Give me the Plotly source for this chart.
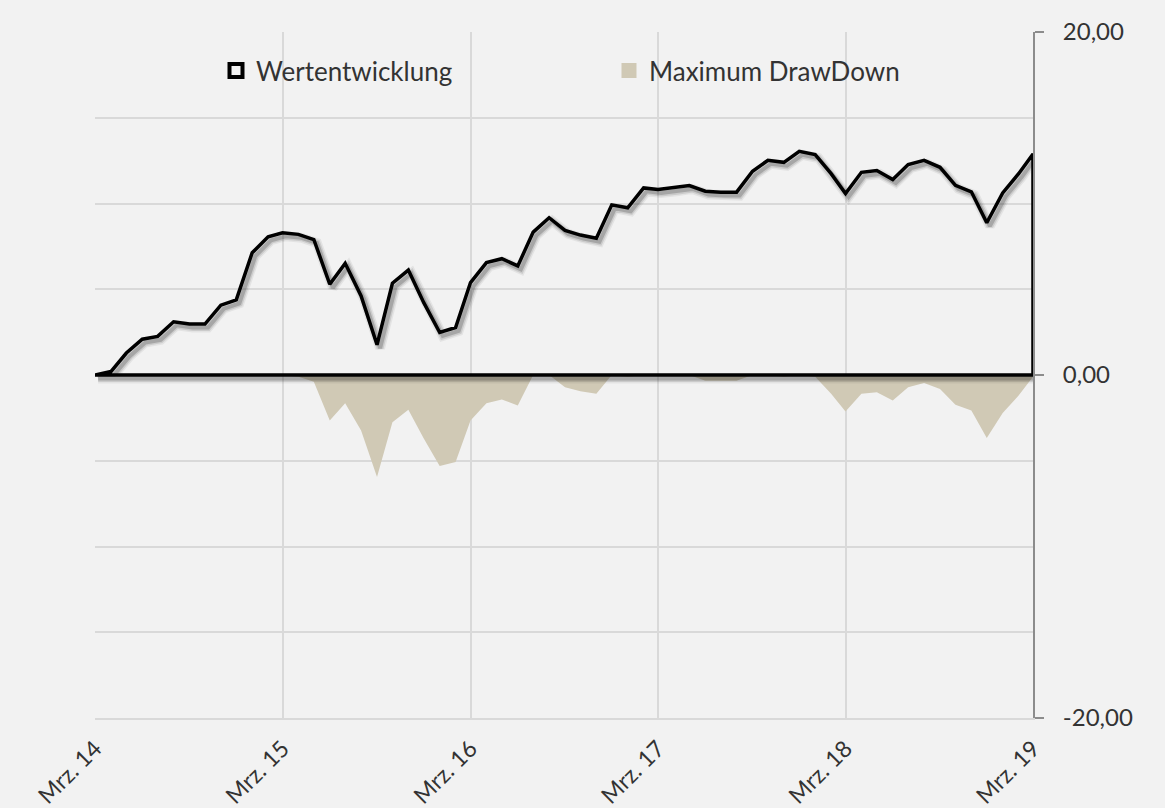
import plotly.graph_objects as go
import pandas as pd

# ---- data ----
months = [f"{2014 + (2 + i) // 12}-{(2 + i) % 12 + 1:02d}-01" for i in range(61)]

wertentwicklung = [
    0.00, 0.20, 1.28, 2.09, 2.25, 3.10, 2.97, 2.97, 4.07, 4.38,
    7.13, 8.06, 8.29, 8.20, 7.90, 5.29, 6.51, 4.61, 1.76, 5.35,
    6.12, 4.22, 2.48, 2.77, 5.39, 6.55, 6.78, 6.36, 8.33, 9.17,
    8.43, 8.16, 7.97, 9.92, 9.75, 10.91, 10.81, 10.91, 11.05, 10.72,
    10.66, 10.66, 11.88, 12.52, 12.40, 13.04, 12.85, 11.74, 10.58, 11.82,
    11.92, 11.40, 12.27, 12.52, 12.11, 11.06, 10.68, 8.88, 10.62, 11.74,
    12.89,
]

max_drawdown = [
    0, 0, 0, 0, 0, 0, 0, 0, 0, 0,
    0, 0, 0, -0.10, -0.40, -2.66, -1.65, -3.24, -5.95, -2.75,
    -2.02, -3.70, -5.31, -5.08, -2.66, -1.65, -1.43, -1.78, 0, 0,
    -0.72, -0.95, -1.10, 0, -0.10, 0, -0.05, 0, 0, -0.33,
    -0.35, -0.33, 0, 0, -0.10, 0, -0.10, -1.10, -2.13, -1.10,
    -1.00, -1.49, -0.72, -0.47, -0.81, -1.74, -2.07, -3.68, -2.21, -1.20,
    -0.10,
]

series_names = ["Wertentwicklung", "Maximum DrawDown"]
x_tick_vals = ["2014-03-01", "2015-03-01", "2016-03-01", "2017-03-01", "2018-03-01", "2019-03-01"]
x_tick_text = ["Mrz. 14", "Mrz. 15", "Mrz. 16", "Mrz. 17", "Mrz. 18", "Mrz. 19"]
y_tick_vals = [-20, 0, 20]
y_tick_text = ["-20,00", "0,00", "20,00"]

# ---- styling ----
BG = "#F2F2F2"
GRID = "#D9D9D9"
TEXT = "#333333"
DD_COLOR = "#D0C9B5"
FONT = "Lato"

# outline of the (unfilled) area: the line, down to zero, back along zero
outline_x = months + [months[-1], months[0]]
outline_y = wertentwicklung + [0, 0]

fig = go.Figure()

# drawdown area
fig.add_trace(go.Scatter(
    x=months, y=max_drawdown, mode="lines", fill="tozeroy",
    fillcolor=DD_COLOR, line=dict(width=0, color=DD_COLOR),
    showlegend=False, hoverinfo="skip", xaxis="x", yaxis="y",
))

# soft shadow of the line (on shifted overlay axes)
for w, a in [(10, 0.06), (7, 0.10), (4, 0.18)]:
    fig.add_trace(go.Scatter(
        x=outline_x, y=outline_y, mode="lines",
        line=dict(width=w, color=f"rgba(0,0,0,{a})"),
        showlegend=False, hoverinfo="skip", xaxis="x2", yaxis="y2",
    ))

# performance line
fig.add_trace(go.Scatter(
    x=outline_x, y=outline_y, mode="lines",
    line=dict(width=3.5, color="black"),
    showlegend=False, xaxis="x3", yaxis="y3",
))

# legend entries
fig.add_trace(go.Scatter(
    x=[None], y=[None], mode="markers", name=series_names[0],
    marker=dict(symbol="square-open", size=13, color="black",
                line=dict(width=4, color="black")),
))
fig.add_trace(go.Scatter(
    x=[None], y=[None], mode="markers", name=series_names[1],
    marker=dict(symbol="square", size=15, color=DD_COLOR),
))

x0 = pd.Timestamp(x_tick_vals[0])
x1 = pd.Timestamp(x_tick_vals[-1])
shift = pd.Timedelta(days=6)
yshift = 0.2

fig.update_layout(
    width=1165, height=808,
    paper_bgcolor=BG, plot_bgcolor=BG,
    margin=dict(l=95, r=132, t=32, b=90, autoexpand=False),
    font=dict(family=FONT, color=TEXT, size=24),
    xaxis=dict(
        range=[x0, x1], tickvals=x_tick_vals, ticktext=x_tick_text,
        tickangle=-45, showgrid=True, gridcolor=GRID, gridwidth=1.5,
        showline=True, linecolor=GRID, linewidth=2, automargin=False,
        ticks="", zeroline=False, tickfont=dict(size=23, color=TEXT),
        ticklabelstandoff=6,
    ),
    yaxis=dict(
        range=[-20, 20], side="right", tickvals=y_tick_vals, ticktext=y_tick_text,
        showgrid=True, gridcolor=GRID, gridwidth=1.5, automargin=False,
        minor=dict(tickvals=[-15, -10, -5, 5, 10, 15], showgrid=True,
                   gridcolor=GRID, gridwidth=1.5, ticks=""),
        zeroline=True, zerolinecolor="#7F7F7F", zerolinewidth=2,
        showline=True, linecolor="#8C8C8C", linewidth=2,
        ticks="outside", ticklen=9, tickcolor="#8C8C8C", tickwidth=2,
        ticklabelstandoff=14, tickfont=dict(size=24, color=TEXT),
    ),
    xaxis2=dict(overlaying="x", range=[x0 - shift, x1 - shift], visible=False),
    yaxis2=dict(overlaying="y", range=[-20 + yshift, 20 + yshift], visible=False),
    xaxis3=dict(overlaying="x", range=[x0, x1], visible=False),
    yaxis3=dict(overlaying="y", range=[-20, 20], visible=False),
    legend=dict(
        orientation="h", x=0.129, xanchor="left", y=0.978, yanchor="top",
        font=dict(size=26, color=TEXT), bgcolor="rgba(0,0,0,0)",
        entrywidth=348, entrywidthmode="pixels", itemsizing="trace",
    ),
    showlegend=True,
)

fig.write_html(
    "out.html",
    config={"displayModeBar": False},
    post_script="document.body.style.margin='0';document.body.style.background='#F2F2F2';",
)
